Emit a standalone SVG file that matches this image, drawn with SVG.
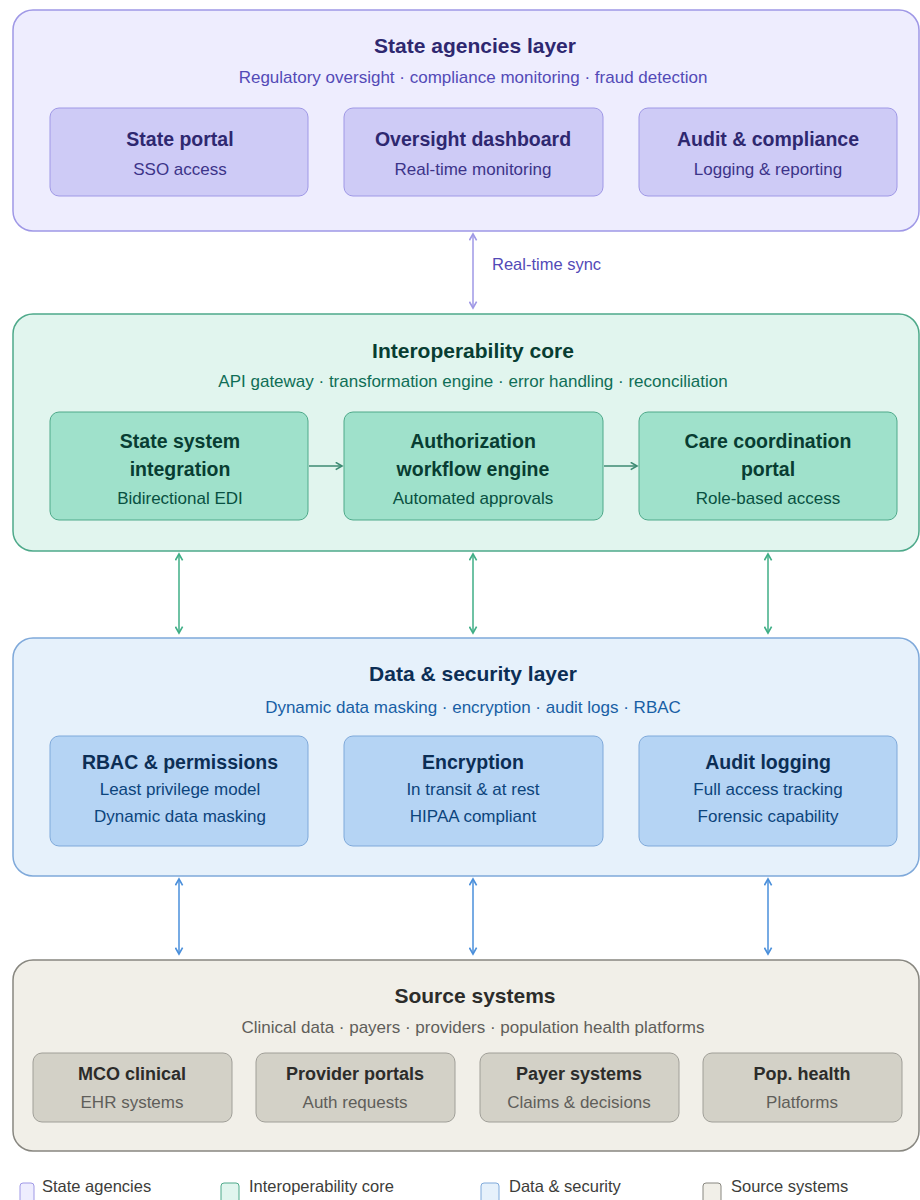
<svg xmlns="http://www.w3.org/2000/svg" width="920" height="1200" viewBox="0 0 920 1200">
<defs>
<style>
text{font-family:"Liberation Sans",Arial,sans-serif;text-anchor:middle}
.lt{font-size:21px;font-weight:bold}
.ls{font-size:17px}
.nt{font-size:19.5px;font-weight:bold}
.ns{font-size:17px}
.k .nt{font-size:18px}
.p .outer{fill:#EEEDFE;stroke:#9F98E6;stroke-width:1.5}
.p .inner{fill:#CECBF6;stroke:#9F98E6;stroke-width:1}
.p .lt,.p .nt{fill:#2E2870}
.p .ls{fill:#534AB7}
.p .ns{fill:#3C3489}
.g .outer{fill:#E1F5EE;stroke:#4EA98A;stroke-width:1.5}
.g .inner{fill:#9FE1CB;stroke:#4EA98A;stroke-width:1}
.g .lt,.g .nt{fill:#083D32}
.g .ls{fill:#0F6E56}
.g .ns{fill:#085041}
.b .outer{fill:#E6F1FB;stroke:#7FA9DA;stroke-width:1.5}
.b .inner{fill:#B5D4F4;stroke:#7FA9DA;stroke-width:1}
.b .lt,.b .nt{fill:#0C2E55}
.b .ls{fill:#185FA5}
.b .ns{fill:#0C447C}
.k .outer{fill:#F1EFE8;stroke:#888780;stroke-width:1.5}
.k .inner{fill:#D3D1C7;stroke:#A09F98;stroke-width:1}
.k .lt,.k .nt{fill:#2C2C2A}
.k .ls,.k .ns{fill:#5F5E5A}
.leg{font-size:16.5px;text-anchor:start;fill:#3d3d3a}
</style>
<marker id="ap" viewBox="0 0 10 10" refX="8" refY="5" markerWidth="6" markerHeight="6" orient="auto-start-reverse"><path d="M1,1 L8,5 L1,9" fill="none" stroke="#9F98E6" stroke-width="1.8"/></marker>
<marker id="ag" viewBox="0 0 10 10" refX="8" refY="5" markerWidth="6" markerHeight="6" orient="auto-start-reverse"><path d="M1,1 L8,5 L1,9" fill="none" stroke="#3FAE86" stroke-width="1.8"/></marker>
<marker id="agd" viewBox="0 0 10 10" refX="8" refY="5" markerWidth="6" markerHeight="6" orient="auto-start-reverse"><path d="M1,1 L8,5 L1,9" fill="none" stroke="#3C8A72" stroke-width="1.8"/></marker>
<marker id="ab" viewBox="0 0 10 10" refX="8" refY="5" markerWidth="6" markerHeight="6" orient="auto-start-reverse"><path d="M1,1 L8,5 L1,9" fill="none" stroke="#4A8FDB" stroke-width="1.8"/></marker>
</defs>

<g id="layer-state" class="p">
<rect class="outer" x="13" y="10" width="906" height="221" rx="20"/>
<text class="lt" x="475" y="53">State agencies layer</text>
<text class="ls" x="473" y="83">Regulatory oversight · compliance monitoring · fraud detection</text>
</g>
<g id="state-portal" class="p">
<rect class="inner" x="50" y="108" width="258" height="88" rx="9"/>
<text class="nt" x="180" y="146">State portal</text>
<text class="ns" x="180" y="175">SSO access</text>
</g>
<g id="oversight-dashboard" class="p">
<rect class="inner" x="344" y="108" width="259" height="88" rx="9"/>
<text class="nt" x="473" y="146">Oversight dashboard</text>
<text class="ns" x="473" y="175">Real-time monitoring</text>
</g>
<g id="audit-compliance" class="p">
<rect class="inner" x="639" y="108" width="258" height="88" rx="9"/>
<text class="nt" x="768" y="146">Audit &amp; compliance</text>
<text class="ns" x="768" y="175">Logging &amp; reporting</text>
</g>

<g id="layer-interop" class="g">
<rect class="outer" x="13" y="314" width="906" height="237" rx="20"/>
<text class="lt" x="473" y="358">Interoperability core</text>
<text class="ls" x="473" y="387">API gateway · transformation engine · error handling · reconciliation</text>
</g>
<g id="state-system-integration" class="g">
<rect class="inner" x="50" y="412" width="258" height="108" rx="9"/>
<text class="nt" x="180" y="448">State system</text>
<text class="nt" x="180" y="476">integration</text>
<text class="ns" x="180" y="504">Bidirectional EDI</text>
</g>
<g id="authorization-workflow" class="g">
<rect class="inner" x="344" y="412" width="259" height="108" rx="9"/>
<text class="nt" x="473" y="448">Authorization</text>
<text class="nt" x="473" y="476">workflow engine</text>
<text class="ns" x="473" y="504">Automated approvals</text>
</g>
<g id="care-coordination" class="g">
<rect class="inner" x="639" y="412" width="258" height="108" rx="9"/>
<text class="nt" x="768" y="448">Care coordination</text>
<text class="nt" x="768" y="476">portal</text>
<text class="ns" x="768" y="504">Role-based access</text>
</g>

<g id="layer-data" class="b">
<rect class="outer" x="13" y="638" width="906" height="238" rx="20"/>
<text class="lt" x="473" y="681">Data &amp; security layer</text>
<text class="ls" x="473" y="713">Dynamic data masking · encryption · audit logs · RBAC</text>
</g>
<g id="rbac" class="b">
<rect class="inner" x="50" y="736" width="258" height="110" rx="9"/>
<text class="nt" x="180" y="769">RBAC &amp; permissions</text>
<text class="ns" x="180" y="795">Least privilege model</text>
<text class="ns" x="180" y="822">Dynamic data masking</text>
</g>
<g id="encryption" class="b">
<rect class="inner" x="344" y="736" width="259" height="110" rx="9"/>
<text class="nt" x="473" y="769">Encryption</text>
<text class="ns" x="473" y="795">In transit &amp; at rest</text>
<text class="ns" x="473" y="822">HIPAA compliant</text>
</g>
<g id="audit-logging" class="b">
<rect class="inner" x="639" y="736" width="258" height="110" rx="9"/>
<text class="nt" x="768" y="769">Audit logging</text>
<text class="ns" x="768" y="795">Full access tracking</text>
<text class="ns" x="768" y="822">Forensic capability</text>
</g>

<g id="layer-source" class="k">
<rect class="outer" x="13" y="960" width="906" height="191" rx="20"/>
<text class="lt" x="475" y="1003">Source systems</text>
<text class="ls" x="473" y="1033">Clinical data · payers · providers · population health platforms</text>
</g>
<g id="mco-clinical" class="k">
<rect class="inner" x="33" y="1053" width="199" height="69" rx="9"/>
<text class="nt" x="132" y="1080">MCO clinical</text>
<text class="ns" x="132" y="1108">EHR systems</text>
</g>
<g id="provider-portals" class="k">
<rect class="inner" x="256" y="1053" width="199" height="69" rx="9"/>
<text class="nt" x="355" y="1080">Provider portals</text>
<text class="ns" x="355" y="1108">Auth requests</text>
</g>
<g id="payer-systems" class="k">
<rect class="inner" x="480" y="1053" width="199" height="69" rx="9"/>
<text class="nt" x="579" y="1080">Payer systems</text>
<text class="ns" x="579" y="1108">Claims &amp; decisions</text>
</g>
<g id="pop-health" class="k">
<rect class="inner" x="703" y="1053" width="199" height="69" rx="9"/>
<text class="nt" x="802" y="1080">Pop. health</text>
<text class="ns" x="802" y="1108">Platforms</text>
</g>

<g id="connectors" fill="none" stroke-width="1.5">
<line x1="473" y1="234" x2="473" y2="308" stroke="#9F98E6" marker-start="url(#ap)" marker-end="url(#ap)"/>
<text x="492" y="270" style="font-size:16.5px;text-anchor:start;fill:#534AB7;stroke:none">Real-time sync</text>
<line x1="309" y1="466" x2="342" y2="466" stroke="#3C8A72" marker-end="url(#agd)"/>
<line x1="604" y1="466" x2="637" y2="466" stroke="#3C8A72" marker-end="url(#agd)"/>
<line x1="179" y1="554" x2="179" y2="633" stroke="#3FAE86" marker-start="url(#ag)" marker-end="url(#ag)"/>
<line x1="473" y1="554" x2="473" y2="633" stroke="#3FAE86" marker-start="url(#ag)" marker-end="url(#ag)"/>
<line x1="768" y1="554" x2="768" y2="633" stroke="#3FAE86" marker-start="url(#ag)" marker-end="url(#ag)"/>
<line x1="179" y1="879" x2="179" y2="954" stroke="#4A8FDB" marker-start="url(#ab)" marker-end="url(#ab)"/>
<line x1="473" y1="879" x2="473" y2="954" stroke="#4A8FDB" marker-start="url(#ab)" marker-end="url(#ab)"/>
<line x1="768" y1="879" x2="768" y2="954" stroke="#4A8FDB" marker-start="url(#ab)" marker-end="url(#ab)"/>
</g>

<g id="legend">
<rect x="20" y="1183" width="14" height="20" rx="3" fill="#EEEDFE" stroke="#9F98E6"/>
<text class="leg" x="42" y="1192">State agencies</text>
<rect x="221" y="1183" width="18" height="20" rx="3" fill="#E1F5EE" stroke="#4EA98A"/>
<text class="leg" x="249" y="1192">Interoperability core</text>
<rect x="481" y="1183" width="18" height="20" rx="3" fill="#E6F1FB" stroke="#7FA9DA"/>
<text class="leg" x="509" y="1192">Data &amp; security</text>
<rect x="703" y="1183" width="18" height="20" rx="3" fill="#F1EFE8" stroke="#888780"/>
<text class="leg" x="731" y="1192">Source systems</text>
</g>
</svg>
